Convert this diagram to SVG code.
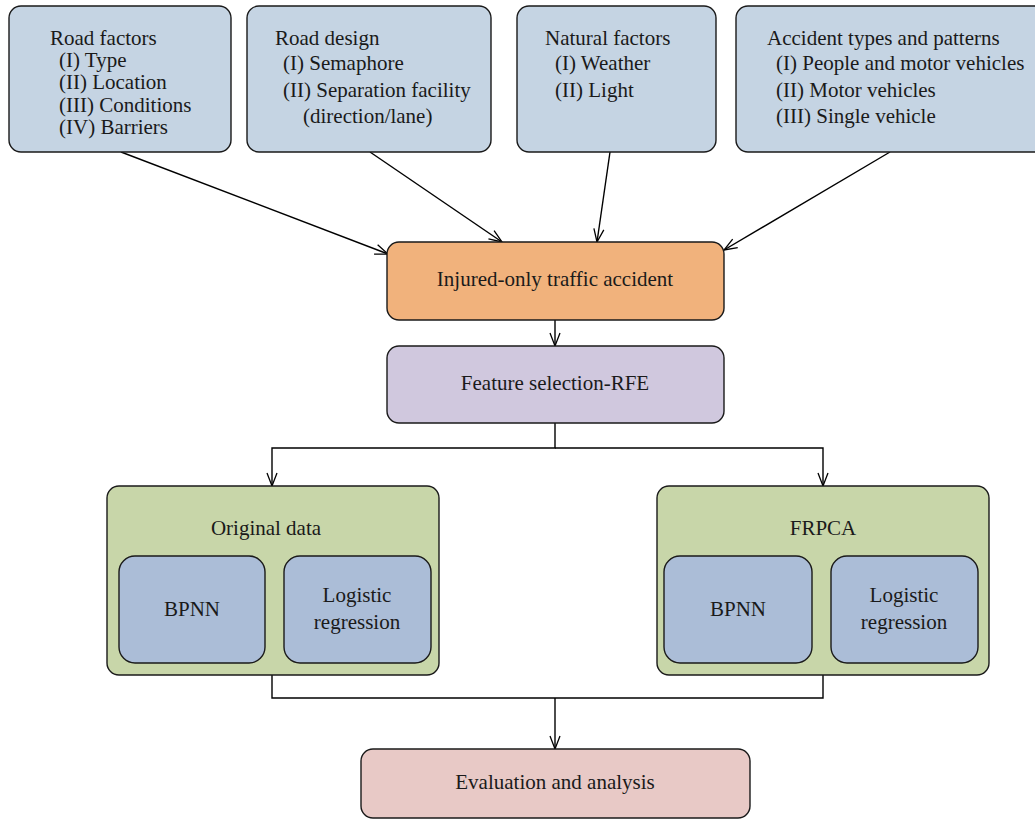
<svg xmlns="http://www.w3.org/2000/svg" width="1035" height="820" viewBox="0 0 1035 820">
<defs>
<marker id="ah" markerWidth="16" markerHeight="12" refX="14" refY="6" orient="auto" markerUnits="userSpaceOnUse">
<path d="M1,1 L14,6 L1,11" fill="none" stroke="#000" stroke-width="1.3"/>
</marker>
<style>
text{font-family:"Liberation Serif","Times New Roman",serif;font-size:21px;fill:#1a1a1a}
.c{text-anchor:middle}
.box{stroke:#1a1a1a;stroke-width:1.4}
.top{fill:#c5d4e3}
.inj{fill:#f1b27c}
.fs{fill:#d0c8de}
.grn{fill:#c8d6a9}
.inn{fill:#abbdd7}
.ev{fill:#e8c9c6}
.ln{stroke:#000;stroke-width:1.4;fill:none}
</style>
</defs>
<rect width="1035" height="820" fill="#fff"/>
<g id="connectors">
<line class="ln" x1="121" y1="152" x2="388" y2="254" marker-end="url(#ah)"/>
<line class="ln" x1="370" y1="152" x2="502" y2="242" marker-end="url(#ah)"/>
<line class="ln" x1="610" y1="152" x2="597" y2="242" marker-end="url(#ah)"/>
<line class="ln" x1="890" y1="152" x2="724" y2="250" marker-end="url(#ah)"/>
<line class="ln" x1="555" y1="320" x2="555" y2="346" marker-end="url(#ah)"/>
<polyline class="ln" points="555,423 555,448 272,448 272,486" marker-end="url(#ah)"/>
<polyline class="ln" points="555,448 823,448 823,486" marker-end="url(#ah)"/>
<polyline class="ln" points="272,675 272,698 823,698 823,675"/>
<line class="ln" x1="555" y1="698" x2="555" y2="749" marker-end="url(#ah)"/>
</g>
<g id="road-factors">
<rect class="box top" x="9" y="6" width="222" height="146" rx="12"/>
<text x="50" y="45">Road factors</text>
<text x="59" y="67">(I) Type</text>
<text x="59" y="89">(II) Location</text>
<text x="59" y="112">(III) Conditions</text>
<text x="59" y="134">(IV) Barriers</text>
</g>
<g id="road-design">
<rect class="box top" x="247" y="6" width="244" height="146" rx="12"/>
<text x="275" y="45">Road design</text>
<text x="283" y="70">(I) Semaphore</text>
<text x="283" y="97">(II) Separation facility</text>
<text x="303" y="123">(direction/lane)</text>
</g>
<g id="natural-factors">
<rect class="box top" x="517" y="6" width="199" height="146" rx="12"/>
<text x="545" y="45">Natural factors</text>
<text x="555" y="70">(I) Weather</text>
<text x="555" y="97">(II) Light</text>
</g>
<g id="accident-types">
<rect class="box top" x="736" y="6" width="310" height="146" rx="12"/>
<text x="767" y="45">Accident types and patterns</text>
<text x="776" y="70">(I) People and motor vehicles</text>
<text x="776" y="97">(II) Motor vehicles</text>
<text x="776" y="123">(III) Single vehicle</text>
</g>
<g id="injured">
<rect class="box inj" x="387" y="242" width="337" height="78" rx="12"/>
<text class="c" x="555" y="286">Injured-only traffic accident</text>
</g>
<g id="feature-selection">
<rect class="box fs" x="387" y="346" width="337" height="77" rx="12"/>
<text class="c" x="555" y="390">Feature selection-RFE</text>
</g>
<g id="original-data">
<rect class="box grn" x="107" y="486" width="332" height="189" rx="12"/>
<text class="c" x="266" y="535">Original data</text>
<rect class="box inn" x="119" y="556" width="146" height="107" rx="16"/>
<text class="c" x="192" y="616">BPNN</text>
<rect class="box inn" x="284" y="556" width="147" height="107" rx="16"/>
<text class="c" x="357" y="602">Logistic</text>
<text class="c" x="357" y="629">regression</text>
</g>
<g id="frpca">
<rect class="box grn" x="657" y="486" width="332" height="189" rx="12"/>
<text class="c" x="823" y="535">FRPCA</text>
<rect class="box inn" x="664" y="556" width="148" height="107" rx="16"/>
<text class="c" x="738" y="616">BPNN</text>
<rect class="box inn" x="831" y="556" width="147" height="107" rx="16"/>
<text class="c" x="904" y="602">Logistic</text>
<text class="c" x="904" y="629">regression</text>
</g>
<g id="evaluation">
<rect class="box ev" x="361" y="749" width="389" height="69" rx="12"/>
<text class="c" x="555" y="789">Evaluation and analysis</text>
</g>
</svg>
